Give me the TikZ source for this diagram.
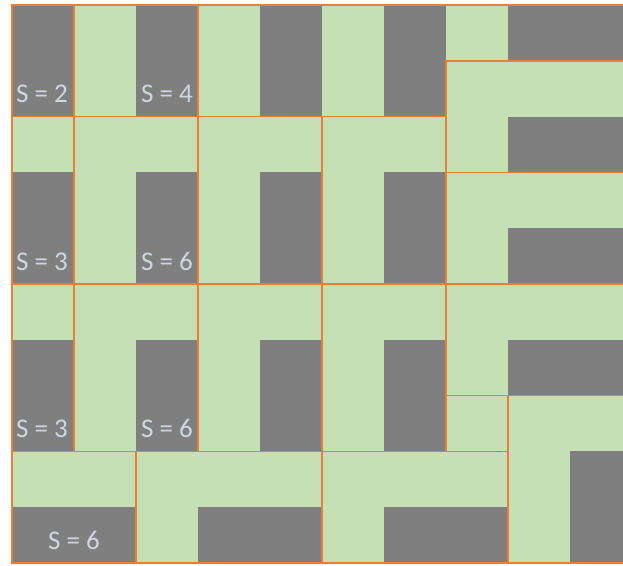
\documentclass[tikz,border=0pt]{standalone}
\usepackage{fontspec}
\setmainfont{Carlito}
\definecolor{tilegreen}{HTML}{C5E0B4}
\definecolor{tilegray}{HTML}{7F7F7F}
\definecolor{edgeorange}{HTML}{ED7D31}
\definecolor{labelgray}{RGB}{208,214,224}
\tikzset{
  darkcell/.style={fill=tilegray},
  edge/.style={draw=edgeorange, line width=1.5pt, line cap=rect},
  slabel/.style={text=labelgray, font=\fontsize{27}{27}\selectfont, anchor=base, inner sep=0pt}
}
\begin{document}
\begin{tikzpicture}[x=1pt,y=-1pt]
\useasboundingbox (0,0) rectangle (623,565);
% green base
\fill[tilegreen] (12,5) rectangle (623,563);
% rows 0-1
\fill[darkcell] (12,5) rectangle (74,116.6);
\fill[darkcell] (136,5) rectangle (198,116.6);
\fill[darkcell] (260,5) rectangle (322,116.6);
\fill[darkcell] (384,5) rectangle (446,116.6);
\fill[darkcell] (508,5) rectangle (623,60.8);
% rows 2-4
\fill[darkcell] (12,172.4) rectangle (74,284);
\fill[darkcell] (136,172.4) rectangle (198,284);
\fill[darkcell] (260,172.4) rectangle (322,284);
\fill[darkcell] (384,172.4) rectangle (446,284);
\fill[darkcell] (508,116.6) rectangle (623,172.4);
\fill[darkcell] (508,228.2) rectangle (623,284);
% rows 5-7
\fill[darkcell] (12,339.8) rectangle (74,451.4);
\fill[darkcell] (136,339.8) rectangle (198,451.4);
\fill[darkcell] (260,339.8) rectangle (322,451.4);
\fill[darkcell] (384,339.8) rectangle (446,451.4);
\fill[darkcell] (508,339.8) rectangle (623,395.6);
\fill[darkcell] (570,451.4) rectangle (623,563);
% rows 8-9
\fill[darkcell] (12,507.2) rectangle (136,563);
\fill[darkcell] (198,507.2) rectangle (322,563);
\fill[darkcell] (384,507.2) rectangle (508,563);
% orange borders
\draw[edge] (12,5) -- (623,5);
\draw[edge] (446,60.8) -- (623,60.8);
\draw[edge] (12,116.6) -- (446,116.6);
\draw[edge] (446,172.4) -- (623,172.4);
\draw[edge] (12,284) -- (623,284);
\draw[edge] (446,395.6) -- (623,395.6);
\draw[edge] (12,451.4) -- (508,451.4);
\draw[edge] (12,563) -- (623,563);
\draw[edge] (12,5) -- (12,563);
\draw[edge] (74,5) -- (74,451.4);
\draw[edge] (136,451.4) -- (136,563);
\draw[edge] (198,5) -- (198,451.4);
\draw[edge] (322,116.6) -- (322,563);
\draw[edge] (446,60.8) -- (446,451.4);
\draw[edge] (508,395.6) -- (508,563);
% labels
\node[slabel] (s2)  at (42,102.6) {S = 2};
\node[slabel] (s4)  at (167,102.6) {S = 4};
\node[slabel] (s3a) at (42,270) {S = 3};
\node[slabel] (s6a) at (167,270) {S = 6};
\node[slabel] (s3b) at (42,437.4) {S = 3};
\node[slabel] (s6b) at (167,437.4) {S = 6};
\node[slabel] (s6c) at (74,549) {S = 6};
\end{tikzpicture}
\end{document}
